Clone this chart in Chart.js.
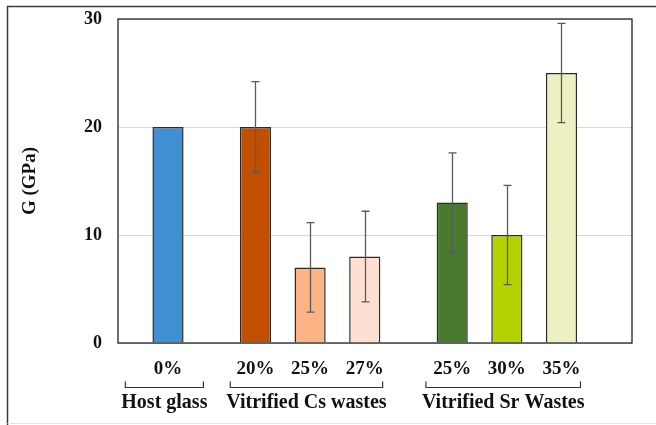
<!DOCTYPE html>
<html><head><meta charset="utf-8">
<script src="https://cdn.jsdelivr.net/npm/chart.js@4/dist/chart.umd.min.js"></script>
<style>html,body{margin:0;padding:0;background:#fff}#wrap{width:656px;height:425px;position:relative}</style>
</head><body><div id="wrap"><canvas id="c" width="656" height="425"></canvas></div>
<script>
// ---- data ----
const groupNames = ['Host glass', 'Vitrified Cs wastes', 'Vitrified Sr Wastes'];
const groupSizes = [1, 3, 3];
const barLabels = ['0%', '20%', '25%', '27%', '25%', '30%', '35%'];
const gValues = [20, 20, 7, 8, 13, 10, 25];
const gErrors = [0, 4.2, 4.15, 4.2, 4.6, 4.6, 4.6];
const yTicks = [0, 10, 20, 30];
const barColors = ['#3f8fd2', '#c04f00', '#fdb484', '#fee0d3', '#4a7a2e', '#b5d200', '#eff0c1'];

// ---- layout helpers (group structure -> positions on the linear axis) ----
const GROUP_GAP = 1.6;
const xPos = [];
const groupSpans = [];
{
  let p = 0;
  groupSizes.forEach((n, g) => {
    if (g > 0) p += GROUP_GAP - 1;
    const start = p;
    for (let k = 0; k < n; k++) { xPos.push(p); p += 1; }
    groupSpans.push([start, p - 1]);
  });
}

const SERIF = '"Liberation Serif", "Times New Roman", serif';

const decor = {
  id: 'decor',
  beforeDraw(chart) {
    const ctx = chart.ctx;
    ctx.save();
    ctx.fillStyle = '#fff';
    ctx.fillRect(0, 0, chart.width, chart.height);
    ctx.strokeStyle = '#3a3a3a';
    ctx.lineWidth = 1.5;
    ctx.beginPath();
    ctx.moveTo(7.5, chart.height);
    ctx.lineTo(7.5, 6.5);
    ctx.lineTo(chart.width, 6.5);
    ctx.stroke();
    ctx.strokeStyle = '#e2e2e2';
    ctx.lineWidth = 1;
    ctx.beginPath();
    ctx.moveTo(7.5, 423.5);
    ctx.lineTo(chart.width, 423.5);
    ctx.stroke();
    ctx.restore();
  },
  afterDatasetsDraw(chart) {
    const ctx = chart.ctx;
    const xs = chart.scales.x, ys = chart.scales.y;
    const a = chart.chartArea;
    ctx.save();
    // error bars
    const meta = chart.getDatasetMeta(0);
    ctx.strokeStyle = '#5a5a5a';
    ctx.lineWidth = 1.3;
    meta.data.forEach((el, i) => {
      const e = gErrors[i];
      if (!e) return;
      const x = Math.round(el.x) + 0.5;
      const yt = ys.getPixelForValue(gValues[i] + e);
      const yb = ys.getPixelForValue(gValues[i] - e);
      ctx.beginPath();
      ctx.moveTo(x, yt); ctx.lineTo(x, yb);
      ctx.moveTo(x - 4, yt); ctx.lineTo(x + 4, yt);
      ctx.moveTo(x - 4, yb); ctx.lineTo(x + 4, yb);
      ctx.stroke();
    });
    // plot border
    ctx.strokeStyle = '#222';
    ctx.lineWidth = 1.3;
    ctx.strokeRect(a.left, a.top, a.right - a.left, a.bottom - a.top);
    // group brackets and labels
    ctx.font = 'bold 20px ' + SERIF;
    ctx.fillStyle = '#111';
    ctx.textAlign = 'center';
    ctx.textBaseline = 'middle';
    ctx.strokeStyle = '#333';
    ctx.lineWidth = 1.2;
    const unit = xs.getPixelForValue(1) - xs.getPixelForValue(0);
    groupSpans.forEach((s, g) => {
      let l = xs.getPixelForValue(s[0]) - 0.36 * unit;
      let r = xs.getPixelForValue(s[1]) + 0.3 * unit;
      const tw = ctx.measureText(groupNames[g]).width - 8;
      if (r - l < tw) { const c = (l + r) / 2 - 2; l = c - tw / 2; r = c + tw / 2; }
      const by = 387.5;
      ctx.beginPath();
      ctx.moveTo(l, by - 6); ctx.lineTo(l, by); ctx.lineTo(r, by); ctx.lineTo(r, by - 6);
      ctx.stroke();
      ctx.fillText(groupNames[g], (l + r) / 2, 403);
    });
    ctx.restore();
  }
};

new Chart(document.getElementById('c'), {
  type: 'bar',
  data: {
    datasets: [{
      data: xPos.map((x, i) => ({ x: x, y: gValues[i] })),
      backgroundColor: barColors,
      borderColor: '#2b2b2b',
      borderWidth: 1.5,
      barPercentage: 0.57,
      categoryPercentage: 1
    }]
  },
  options: {
    responsive: false,
    animation: false,
    devicePixelRatio: 1,
    layout: { padding: { top: 19, right: 24, bottom: 0, left: 0 } },
    plugins: { legend: { display: false }, tooltip: { enabled: false } },
    scales: {
      x: {
        type: 'linear',
        offset: false,
        min: -0.915,
        max: 8.49,
        grid: { display: false },
        border: { display: false },
        afterBuildTicks: s => { s.ticks = xPos.map(v => ({ value: v })); },
        afterFit: s => { s.height = 82; s.paddingLeft = 0; s.paddingRight = 0; },
        ticks: {
          autoSkip: false, maxRotation: 0, minRotation: 0, padding: 7,
          color: '#111',
          font: { family: SERIF, size: 19, weight: 'bold' },
          callback: (v, i) => barLabels[i]
        }
      },
      y: {
        min: 0,
        max: 30,
        afterBuildTicks: s => { s.ticks = yTicks.map(v => ({ value: v })); },
        afterFit: s => { s.width = 118; s.paddingTop = 0; s.paddingBottom = 0; },
        grid: { color: '#d9d9d9', drawTicks: false, lineWidth: 1 },
        border: { display: false },
        ticks: {
          padding: 16, color: '#111',
          font: { family: SERIF, size: 18, weight: 'bold' }
        },
        title: {
          display: true, text: 'G (GPa)', color: '#111',
          font: { family: SERIF, size: 19, weight: 'bold' },
          padding: { top: 19, bottom: 0 }
        }
      }
    }
  },
  plugins: [decor]
});
</script>
</body></html>
